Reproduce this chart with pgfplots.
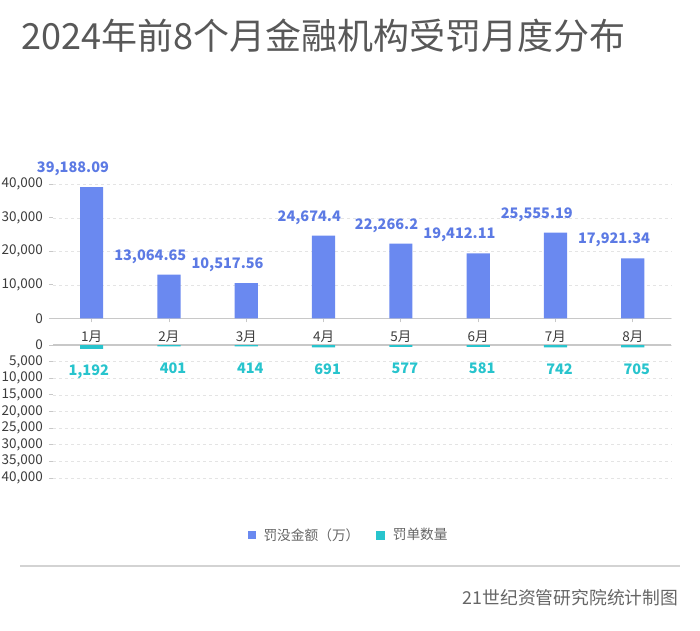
\documentclass[border=0pt]{standalone}
\usepackage{fontspec}
\setmainfont{Noto Sans CJK SC}
\usepackage{pgfplots}
\pgfplotsset{compat=1.18}
\definecolor{barblue}{RGB}{106,137,240}
\definecolor{lblblue}{RGB}{92,122,228}
\definecolor{tealc}{RGB}{40,196,205}
\definecolor{gridc}{RGB}{228,228,228}
\definecolor{axisc}{RGB}{200,200,200}
\definecolor{txt}{RGB}{60,60,60}
\definecolor{titlec}{RGB}{88,88,88}
\definecolor{graytxt}{RGB}{102,102,102}
\begin{document}
\begin{tikzpicture}
\path[use as bounding box] (0pt,0pt) rectangle (700pt,630pt);
\node[anchor=base west, inner sep=0, text=titlec, font=\fontsize{36}{40}\selectfont] at (21pt,580.5pt) {2024年前8个月金融机构受罚月度分布};
\pgfplotsset{
  common/.style={
    width=618.4pt, scale only axis,
    xmin=-0.5, xmax=7.5, ymin=0, ymax=40000,
    xtick={0,...,7},
    xtick pos=bottom, ytick pos=left,
    scaled y ticks=false,
    axis line style={draw=none},
    tick align=outside,
    major tick length=4pt,
    tick style={axisc, line width=0.8pt},
    ymajorgrids,
    major grid style={gridc, dashed, line width=0.6pt},
    yticklabel style={font=\fontsize{13.5}{14}\selectfont, text=txt, inner sep=2pt, xshift=-4pt,
      /pgf/number format/.cd, 1000 sep={,}, fixed, assume math mode=true},
  }
}
\begin{axis}[common,
  at={(53pt,311.7pt)}, anchor=south west, height=134pt,
  ytick={0,10000,20000,30000,40000},
  xticklabels={1月,2月,3月,4月,5月,6月,7月,8月},
  xticklabel style={font=\fontsize{13.5}{14}\selectfont, text=txt, yshift=-5pt},
  extra y ticks={0}, extra y tick labels={},
  extra y tick style={grid=major, major grid style={solid, axisc, line width=1.2pt}, major tick length=0pt},
  clip=false,
  legend style={draw=none, at={(0.478,-1.617)}, anchor=center, legend columns=2,
    font=\fontsize{13.7}{14}\selectfont, text=graytxt,
    /tikz/every odd column/.append style={column sep=6pt},
    /tikz/every even column/.append style={column sep=15pt}},
]
\addplot[ybar, bar width=0.3, fill=barblue, draw=none,
  legend image code/.code={\fill[barblue] (0pt,-4pt) rectangle (8pt,4pt);},
  point meta=explicit symbolic,
  nodes near coords,
  every node near coord/.append style={anchor=south east, inner sep=0pt, xshift=17.5pt, yshift=11pt, text=lblblue, font=\fontsize{14.5}{16}\selectfont\bfseries}]
coordinates {
(0,39188.09) [39,188.09]
(1,13064.65) [13,064.65]
(2,10517.56) [10,517.56]
(3,24674.4) [24,674.4]
(4,22266.2) [22,266.2]
(5,19412.11) [19,412.11]
(6,25555.19) [25,555.19]
(7,17921.34) [17,921.34]
};
\addlegendentry{罚没金额（万）}
\addlegendimage{legend image code/.code={\fill[tealc] (0pt,-4pt) rectangle (8pt,4pt);}}
\addlegendentry{罚单数量}
\end{axis}
\begin{axis}[common,
  at={(53pt,285pt)}, anchor=north west, height=133pt,
  y dir=reverse,
  ytick={0,5000,10000,15000,20000,25000,30000,35000,40000},
  xticklabels={}, xtick style={draw=none},
  extra y ticks={0}, extra y tick labels={},
  extra y tick style={grid=major, major grid style={solid, axisc, line width=2pt}, major tick length=0pt},
  clip=false,
]
\addplot[ybar, bar width=0.3, fill=tealc, draw=none,
  point meta=explicit symbolic,
  nodes near coords,
  every node near coord/.append style={anchor=north east, inner sep=0pt, xshift=17.5pt, yshift=-16pt, text=tealc, font=\fontsize{14.5}{16}\selectfont\bfseries}]
coordinates {
(0,1192) [1,192]
(1,401) [401]
(2,414) [414]
(3,691) [691]
(4,577) [577]
(5,581) [581]
(6,742) [742]
(7,705) [705]
};
\end{axis}
\draw[axisc!80, line width=2pt] (20pt,64pt) -- (680pt,64pt);
\node[anchor=east, inner sep=0, text=graytxt, font=\fontsize{17.8}{18}\selectfont] at (678.5pt,32pt) {21世纪资管研究院统计制图};
\end{tikzpicture}
\end{document}
